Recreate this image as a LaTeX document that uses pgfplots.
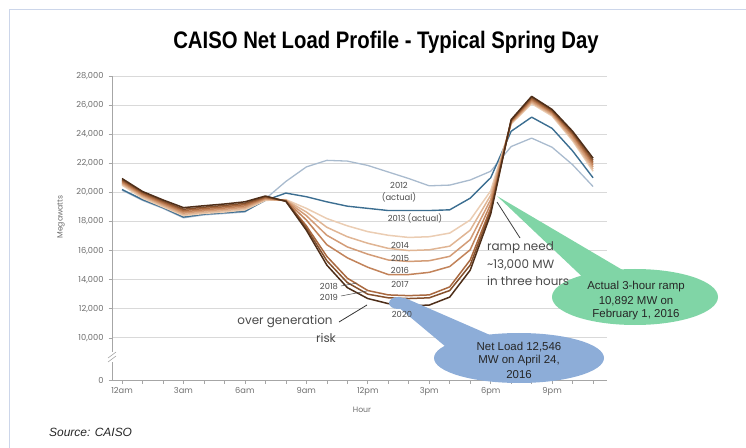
\documentclass[border=0pt]{standalone}
\usepackage{pgfplots}
\pgfplotsset{compat=1.18}
\usepackage{pgfplotstable}
\usepackage{fontspec}
\setmainfont{Liberation Sans}
\newfontfamily\chartfont{Poppins}
\newfontfamily\titlefont[FakeStretch=0.85]{Liberation Sans Bold}

\definecolor{c12}{HTML}{A9BBCE}
\definecolor{c13}{HTML}{3C6E91}
\definecolor{c14}{HTML}{EBCDB3}
\definecolor{c15}{HTML}{E0B594}
\definecolor{c16}{HTML}{D39C77}
\definecolor{c17}{HTML}{C2835A}
\definecolor{c18}{HTML}{A96940}
\definecolor{c19}{HTML}{85502C}
\definecolor{c20}{HTML}{4E2E19}
\definecolor{axisgray}{HTML}{A6A6A6}
\definecolor{gridgray}{HTML}{D9D9D9}
\definecolor{labgray}{HTML}{6E6E6E}
\definecolor{txtgray}{HTML}{4A4A4A}
\definecolor{calgreen}{HTML}{80D5A6}
\definecolor{calblue}{HTML}{8DADD8}
\definecolor{framec}{HTML}{CCD6EA}

\pgfplotstableread{
h  y12   y13   y14   y15   y16   y17   y18   y19   y20
0  20150 20200 20500 20580 20650 20720 20800 20870 20950
1  19450 19500 19600 19700 19780 19850 19920 20000 20060
2  18900 18950 19000 19080 19160 19240 19320 19400 19480
3  18250 18300 18400 18480 18570 18660 18750 18840 18950
4  18450 18500 18550 18630 18720 18800 18890 18980 19080
5  18550 18600 18650 18740 18830 18920 19010 19100 19200
6  18650 18700 18800 18890 18980 19070 19160 19250 19350
7  19550 19450 19450 19500 19550 19600 19650 19700 19750
8  20750 19950 19500 19470 19450 19430 19420 19400 19380
9  21750 19700 18900 18650 18400 18100 17700 17550 17400
10 22200 19350 18200 17600 17050 16400 15600 15300 15000
11 22150 19050 17700 16950 16250 15500 14100 13800 13450
12 21850 18900 17300 16500 15750 14850 13250 13000 12700
13 21400 18750 17050 16150 15350 14350 12950 12750 12350
14 20950 18750 16900 16000 15250 14350 12900 12700 12200
15 20450 18750 16950 16050 15300 14500 12950 12750 12250
16 20500 18800 17200 16300 15600 14900 13500 13250 12800
17 20850 19600 18100 17400 16750 16050 15350 15000 14650
18 21450 21000 20100 19800 19500 19200 18900 18700 18500
19 23150 24200 24700 24750 24800 24850 24900 24950 25000
20 23730 25170 26100 26180 26260 26350 26430 26520 26600
21 23100 24400 25250 25330 25400 25480 25550 25630 25700
22 21900 22850 23550 23650 23750 23900 24000 24100 24200
23 20400 21000 21450 21600 21750 21900 22050 22200 22350
}\netload

\newcommand{\XY}[2]{(#1bp,{(448-#2)*1bp})}

\begin{document}
\begin{tikzpicture}
\path[use as bounding box] (0bp,0bp) rectangle (746bp,448bp);
% slide frame
\draw[framec, line width=1.6bp] (9.5bp,0bp) -- (9.5bp,438.5bp) -- (746bp,438.5bp);

\begin{axis}[at={(112bp,68bp)}, anchor=south west,
  width=495bp, height=304bp, scale only axis,
  xmin=-0.49, xmax=23.68, ymin=7100, ymax=28000,
  axis x line*=bottom, axis y line*=left,
  axis line style={draw=axisgray, line width=0.7bp},
  xtick={0,3,...,21},
  xticklabels={12am,3am,6am,9am,12pm,3pm,6pm,9pm},
  minor xtick={0,1,...,23},
  scaled y ticks=false,
  ytick={10000,12000,...,28000},
  yticklabels={{10,000},{12,000},{14,000},{16,000},{18,000},{20,000},{22,000},{24,000},{26,000},{28,000}},
  extra y ticks={7100}, extra y tick labels={0},
  extra y tick style={grid=none},
  ymajorgrids, grid style={draw=gridgray, line width=0.7bp},
  tick align=outside, major tick length=3.5bp, minor tick length=3.5bp,
  tick style={draw=axisgray, line width=0.6bp},
  ticklabel style={font=\chartfont\fontsize{8.3}{10}\selectfont, text=labgray},
  yticklabel style={xshift=-1.5bp},
  every axis plot/.append style={line width=1.5bp, line join=round, mark=none},
  clip=false]
\addplot[c12, line width=1.3bp] table[x=h,y=y12]{\netload};
\addplot[c13, line width=1.4bp] table[x=h,y=y13]{\netload};
\addplot[c14] table[x=h,y=y14]{\netload};
\addplot[c15] table[x=h,y=y15]{\netload};
\addplot[c16] table[x=h,y=y16]{\netload};
\addplot[c17] table[x=h,y=y17]{\netload};
\addplot[c18] table[x=h,y=y18]{\netload};
\addplot[c19] table[x=h,y=y19]{\netload};
\addplot[c20] table[x=h,y=y20]{\netload};
\end{axis}

% axis break
\fill[white] \XY{108}{362} rectangle \XY{116}{352};
\draw[axisgray, line width=0.6bp] \XY{108}{362} -- \XY{116}{356};
\draw[axisgray, line width=0.6bp] \XY{108}{358} -- \XY{116}{352};

% green callout
\fill[calgreen] \XY{497}{196} -- \XY{626}{272} -- \XY{592}{286} -- cycle;
\fill[calgreen] \XY{635}{297} ellipse [x radius=83bp, y radius=28bp];
\node[font=\fontsize{11.5}{13}\selectfont, text=black!85] at \XY{636}{287} {Actual 3-hour ramp};
\node[font=\fontsize{11.5}{13}\selectfont, text=black!85] at \XY{636}{301} {10,892 MW on};
\node[font=\fontsize{11.5}{13}\selectfont, text=black!85] at \XY{636}{315} {February 1, 2016};

% blue callout
\fill[calblue] \XY{398}{303} ellipse [x radius=9bp, y radius=6bp];
\fill[calblue] \XY{391}{301} -- \XY{405}{298} -- \XY{490}{335} -- \XY{452}{352} -- cycle;
\fill[calblue] \XY{519}{358} ellipse [x radius=85bp, y radius=25bp];
\node[font=\fontsize{11.5}{13}\selectfont, text=black!85] at \XY{519}{347} {Net Load 12,546};
\node[font=\fontsize{11.5}{13}\selectfont, text=black!85] at \XY{519}{361} {MW on April 24,};
\node[font=\fontsize{11.5}{13}\selectfont, text=black!85] at \XY{519}{375} {2016};

% title
\node[font=\titlefont\fontsize{24}{28}\selectfont] at \XY{386}{42} {CAISO Net Load Profile - Typical Spring Day};

% axis titles
\node[font=\chartfont\fontsize{7.8}{9}\selectfont, text=labgray, rotate=90] at \XY{61}{217} {Megawatts};
\node[font=\chartfont\fontsize{7.8}{9}\selectfont, text=labgray] at \XY{362}{410} {Hour};

% year labels
\tikzset{yr/.style={font=\chartfont\fontsize{8.4}{10}\selectfont, text=txtgray, inner sep=0.5bp},
         big/.style={font=\chartfont\fontsize{12}{14}\selectfont, text=txtgray, inner sep=0pt}}
\node[yr] at \XY{399}{185} {2012};
\node[yr] at \XY{399}{197} {(actual)};
\node[yr] at \XY{415}{218} {2013 (actual)};
\node[yr] at \XY{400}{245} {2014};
\node[yr] at \XY{400}{258} {2015};
\node[yr] at \XY{400}{270} {2016};
\node[yr] at \XY{400}{284} {2017};
\node[yr] at \XY{329}{287} {2018};
\node[yr] at \XY{329}{297} {2019};
\node[yr] at \XY{402}{314} {2020};
\draw[txtgray, line width=0.5bp] \XY{341}{286} -- \XY{357}{283};
\draw[txtgray, line width=0.5bp] \XY{341}{296} -- \XY{367}{291};

\node[big] at \XY{285}{322} {over generation};
\node[big] at \XY{326}{338} {risk};
\draw[black!80, line width=0.8bp] \XY{339}{322} -- \XY{367}{305};

\node[big, anchor=west] at \XY{487}{248} {ramp need};
\node[big, anchor=west] at \XY{487}{265} {\char"007E 13,000 MW};
\node[big, anchor=west] at \XY{487}{281} {in three hours};
\draw[black!75, line width=0.8bp] \XY{497}{202} -- \XY{520}{238};

% source
\node[anchor=west, font=\itshape\fontsize{12}{14}\selectfont, text=black!85, inner sep=0pt] at \XY{49}{432} {Source: CAISO};
\end{tikzpicture}
\end{document}
